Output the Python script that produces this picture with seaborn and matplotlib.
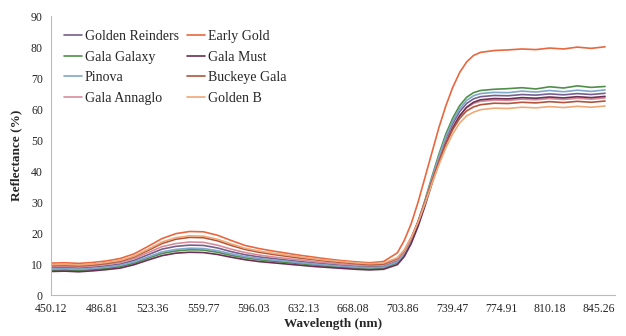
import matplotlib
matplotlib.use("Agg")
import matplotlib.pyplot as plt
import seaborn as sns
import pandas as pd

wavelength = [450,460,470,480,490,500,510,520,530,540,550,560,570,580,590,600,610,620,630,640,650,660,670,680,690,
              700,705,710,715,720,725,730,735,740,745,750,755,760,
              770,780,790,800,810,820,830,840,850]

golden_reinders = [8.8,8.9,8.7,9.0,9.4,10.0,11.2,13.0,14.8,15.7,16.1,16.0,15.2,14.0,13.0,12.3,11.8,11.3,10.8,10.4,10.0,9.6,9.3,9.1,9.3,
                   11.0,13.7,18.0,23.6,30.2,37.4,44.2,50.3,55.3,59.2,61.8,63.3,64.0,
                   64.4,64.3,64.7,64.5,64.9,64.6,65.0,64.7,65.1]
early_gold = [10.3,10.4,10.2,10.5,11.0,11.8,13.3,15.7,18.2,19.8,20.5,20.4,19.3,17.6,16.0,15.0,14.2,13.5,12.8,12.2,11.6,11.1,10.7,10.4,10.8,
              13.6,17.6,23.0,30.0,38.0,46.0,54.0,61.0,67.0,71.8,75.2,77.3,78.3,
              78.9,79.1,79.4,79.2,79.7,79.4,80.0,79.6,80.1]
gala_galaxy = [8.0,8.1,7.9,8.2,8.6,9.2,10.3,11.9,13.4,14.2,14.6,14.5,13.8,12.8,12.0,11.4,10.9,10.5,10.1,9.7,9.3,9.0,8.7,8.5,8.7,
               10.4,13.2,17.7,23.6,30.6,38.2,45.4,51.9,57.1,61.1,63.8,65.3,66.0,
               66.4,66.6,66.9,66.5,67.2,66.8,67.5,67.0,67.3]
gala_must = [7.6,7.7,7.5,7.8,8.2,8.7,9.8,11.3,12.7,13.5,13.8,13.7,13.1,12.2,11.4,10.8,10.4,10.0,9.6,9.2,8.9,8.6,8.3,8.1,8.3,
             9.8,12.4,16.6,22.2,28.8,36.0,42.8,48.9,53.9,57.8,60.6,62.2,63.0,
             63.4,63.3,63.7,63.5,63.9,63.6,64.0,63.7,64.1]
pinova = [8.4,8.5,8.3,8.6,9.0,9.6,10.7,12.3,13.9,14.7,15.1,15.0,14.3,13.3,12.4,11.8,11.3,10.9,10.4,10.0,9.6,9.3,9.0,8.8,9.0,
          10.7,13.4,17.8,23.5,30.3,37.7,44.7,51.0,56.1,60.1,62.8,64.3,65.0,
          65.4,65.3,65.8,65.5,66.0,65.6,66.1,65.7,66.2]
buckeye_gala = [9.5,9.6,9.4,9.7,10.2,10.9,12.3,14.4,16.6,18.0,18.6,18.5,17.5,16.0,14.7,13.8,13.1,12.5,11.9,11.4,10.9,10.5,10.1,9.8,10.0,
                11.8,14.4,18.5,23.8,30.0,36.8,43.0,48.8,53.4,57.0,59.4,60.7,61.4,
                61.9,61.8,62.2,62.0,62.4,62.1,62.5,62.2,62.6]
gala_annaglo = [9.2,9.3,9.1,9.4,9.9,10.5,11.8,13.7,15.6,16.6,17.1,17.0,16.1,14.8,13.7,12.9,12.3,11.8,11.3,10.8,10.4,10.0,9.7,9.5,9.7,
                11.4,14.0,18.2,23.6,30.0,37.0,43.5,49.4,54.2,57.9,60.4,61.8,62.5,
                62.9,62.8,63.2,63.0,63.4,63.1,63.5,63.2,63.6]
golden_b = [9.8,9.9,9.7,10.0,10.5,11.2,12.6,14.8,17.1,18.5,19.1,19.0,18.0,16.5,15.1,14.2,13.5,12.9,12.3,11.7,11.2,10.8,10.4,10.1,10.3,
            12.0,14.5,18.5,23.5,29.5,36.0,42.0,47.5,52.0,55.5,57.8,59.0,59.8,
            60.3,60.2,60.6,60.4,60.8,60.5,60.9,60.6,61.0]

series_names = ["Golden Reinders", "Early Gold", "Gala Galaxy", "Gala Must",
                "Pinova", "Buckeye Gala", "Gala Annaglo", "Golden B"]
series_values = [golden_reinders, early_gold, gala_galaxy, gala_must,
                 pinova, buckeye_gala, gala_annaglo, golden_b]

tick_values = [450.12, 486.81, 523.36, 559.77, 596.03, 632.13, 668.08,
               703.86, 739.47, 774.91, 810.18, 845.26]
tick_labels = ["450.12", "486.81", "523.36", "559.77", "596.03", "632.13", "668.08",
               "703.86", "739.47", "774.91", "810.18", "845.26"]
y_ticks = [0, 10, 20, 30, 40, 50, 60, 70, 80, 90]

palette = {
    "Golden Reinders": "#765f8e",
    "Early Gold": "#e8673f",
    "Gala Galaxy": "#4f8f4a",
    "Gala Must": "#6a2f52",
    "Pinova": "#7fa6cc",
    "Buckeye Gala": "#b2553a",
    "Gala Annaglo": "#d88c9a",
    "Golden B": "#f0a878",
}

rows = []
for name, vals in zip(series_names, series_values):
    for w, v in zip(wavelength, vals):
        rows.append({"Wavelength": w, "Reflectance": v, "Cultivar": name})
df = pd.DataFrame(rows)

sns.set_theme(style="white")
plt.rcParams['font.family'] = ['Liberation Serif', 'DejaVu Serif']

fig = plt.figure(figsize=(6.26, 3.36), dpi=100)
ax = fig.add_axes([0.082, 0.122, 0.9, 0.83])

hue_order = ["Golden Reinders", "Gala Galaxy", "Pinova", "Gala Annaglo",
             "Early Gold", "Gala Must", "Buckeye Gala", "Golden B"]
sns.lineplot(data=df, x="Wavelength", y="Reflectance", hue="Cultivar",
             hue_order=hue_order, palette=palette, linewidth=1.2, ax=ax)

ax.set_xlim(450.12, 857)
ax.set_ylim(0, 90)
ax.set_xticks(tick_values)
ax.set_xticklabels(tick_labels)
ax.set_yticks(y_ticks)
ax.tick_params(axis='both', labelsize=8.5, length=2, color="#bbbbbb")
ax.tick_params(axis='x', pad=4)
ax.tick_params(axis='y', pad=4)
for s in ["top", "right"]:
    ax.spines[s].set_visible(False)
for s in ["left", "bottom"]:
    ax.spines[s].set_color("#bbbbbb")
    ax.spines[s].set_linewidth(0.8)

ax.set_xlabel("Wavelength (nm)", fontsize=9.5, fontweight="bold", labelpad=2)
ax.set_ylabel("Reflectance (%)", fontsize=9.5, fontweight="bold", labelpad=6)

leg = ax.legend(loc="upper left", bbox_to_anchor=(0.005, 0.985), ncol=2, frameon=False,
                fontsize=10, handlelength=1.3, handletextpad=0.2, columnspacing=0.6,
                labelspacing=0.55, borderaxespad=0.3)
for line in leg.get_lines():
    line.set_linewidth(1.2)

fig.savefig("out.png", dpi=100)
